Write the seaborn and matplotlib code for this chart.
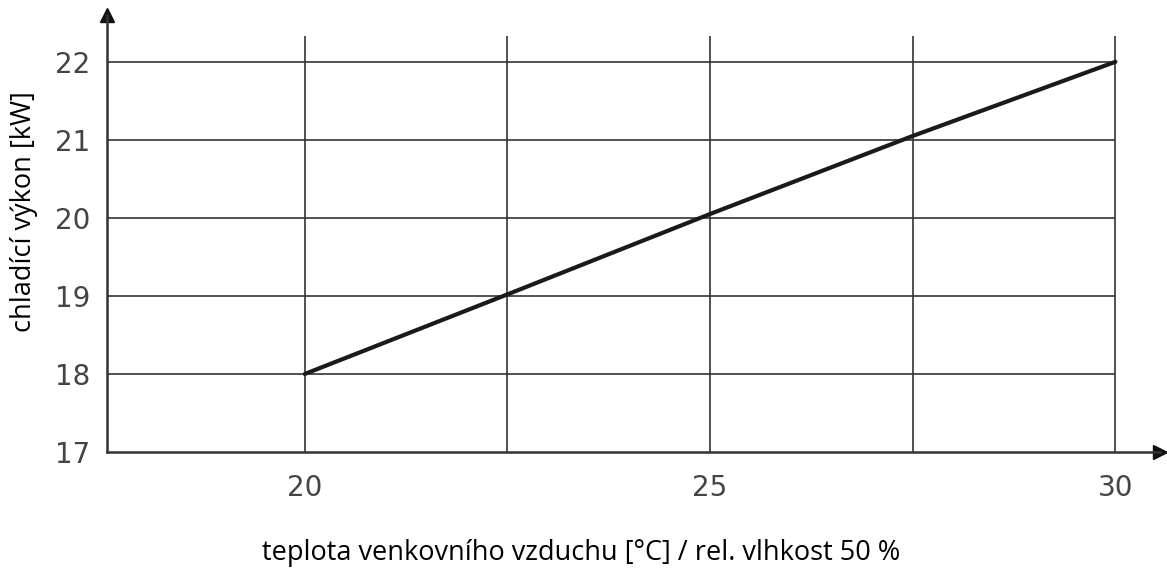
import pandas as pd
import matplotlib.pyplot as plt
import seaborn as sns

# values
teplota = [20, 22.5, 25, 27.5, 30]
vykon = [18.0, 19.02, 20.05, 21.05, 22.0]
x_ticks = [20, 25, 30]
y_ticks = [17, 18, 19, 20, 21, 22]
x_grid = [20, 22.5, 25, 27.5, 30]

df = pd.DataFrame({'teplota': teplota, 'vykon': vykon})

sns.set_style("white")
plt.rcParams['font.family'] = ['Open Sans', 'DejaVu Sans']

fig = plt.figure(figsize=(11.67, 5.74), dpi=100)
ax = fig.add_axes([107 / 1167, 1 - 452 / 574, (1160 - 107) / 1167, (452 - 15) / 574])

x_min, x_max = 17.56, 30.55
y_min, y_max = 17, 22.6
grid_top = 22.33

# grid drawn by hand: it stops at x=30 and just above y=22
ax.hlines(y_ticks[1:], x_min, 30, color='#333333', lw=1.2, zorder=1)
ax.vlines(x_grid, y_min, grid_top, color='#333333', lw=1.2, zorder=1)

sns.lineplot(data=df, x='teplota', y='vykon', color='#1a1a1a', lw=3, ax=ax, zorder=3)

ax.set_xlim(x_min, x_max)
ax.set_ylim(y_min, y_max)
ax.set_xticks(x_ticks)
ax.set_yticks(y_ticks)
ax.tick_params(length=0, labelsize=20, labelcolor='#444444')
ax.tick_params(axis='x', pad=16)
ax.tick_params(axis='y', pad=12)
for lab in ax.get_xticklabels() + ax.get_yticklabels():
    lab.set_family('DejaVu Sans')

for side in ['top', 'right']:
    ax.spines[side].set_visible(False)
for side in ['left', 'bottom']:
    ax.spines[side].set_color('#333333')
    ax.spines[side].set_linewidth(1.8)

# arrow heads at the ends of the axes
ax.plot(1, 0, '>', color='#111111', ms=10, transform=ax.transAxes, clip_on=False)
ax.plot(0, 1, '^', color='#111111', ms=10, transform=ax.transAxes, clip_on=False)

ax.set_xlabel('teplota venkovního vzduchu [°C] / rel. vlhkost 50 %', fontsize=19.5, color='black')
ax.set_ylabel('chladící výkon [kW]', fontsize=19.5, color='black')
ax.xaxis.set_label_coords(0.45, -0.2)
ax.yaxis.set_label_coords(-0.066, 0.55)

fig.savefig('out.png', dpi=100)
